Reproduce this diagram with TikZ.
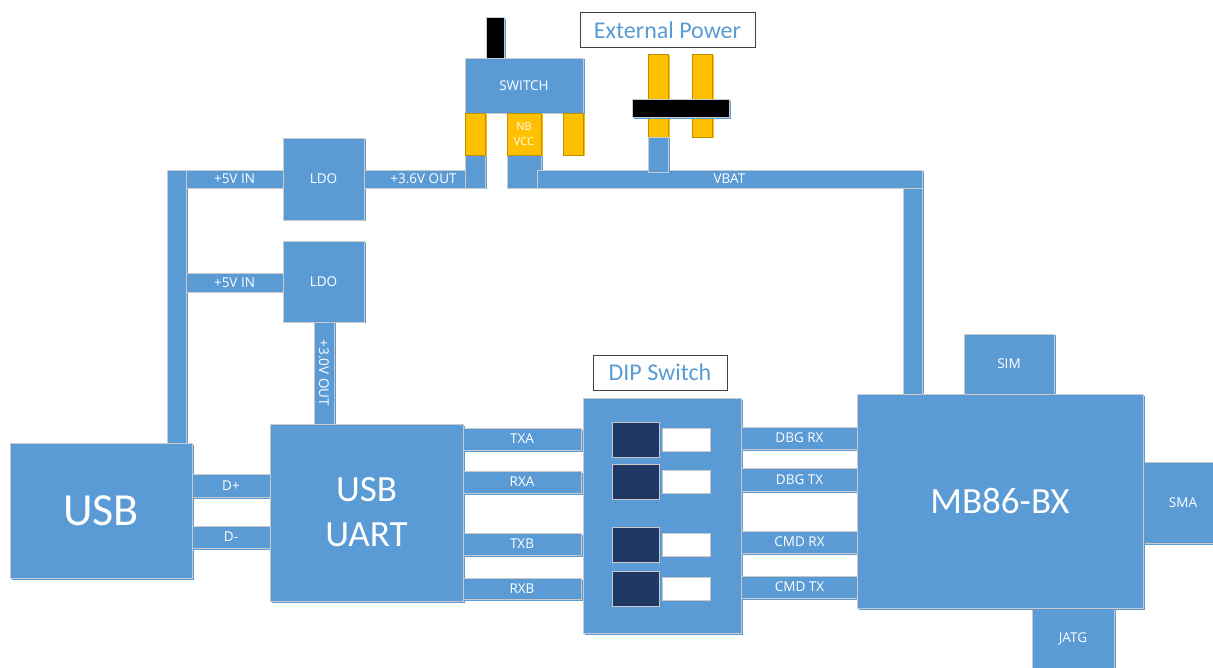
\documentclass[tikz,border=0pt]{standalone}
\usepackage{fontspec}
\setmainfont{Open Sans}
\newfontfamily\bigfont{Carlito}
\usepackage{xcolor}
\definecolor{blockblue}{HTML}{5B9BD5}
\definecolor{edgegray}{HTML}{C9C9C9}
\definecolor{padyellow}{HTML}{FFC000}
\definecolor{padedge}{HTML}{BF9000}
\definecolor{dipnavy}{HTML}{203864}
\usetikzlibrary{shadows}

\begin{document}
\begin{tikzpicture}[x=1pt, y=-1pt, font=\fontsize{13.5}{15}\selectfont,
  sz/.style 2 args={minimum width=#1, minimum height=#2},
  blk/.style={rectangle, draw=edgegray, line width=0.8pt, fill=blockblue, text=white, inner sep=0pt,
    general shadow={fill=blockblue, shadow xshift=1.5pt, shadow yshift=-1.5pt}},
  pad/.style={rectangle, draw=padedge, line width=0.8pt, fill=padyellow, text=white, inner sep=0pt,
    general shadow={fill=padyellow, shadow xshift=1.5pt, shadow yshift=-1.5pt}},
  plug/.style={rectangle, draw=edgegray, line width=0.8pt, fill=black, inner sep=0pt,
    general shadow={fill=blockblue, shadow xshift=2pt, shadow yshift=-2pt}},
  title/.style={rectangle, draw=black!75, line width=1pt, fill=white, text=blockblue, inner sep=0pt,
    font=\bigfont\fontsize{24}{28}\selectfont},
  dipkey/.style={rectangle, draw=edgegray, line width=0.8pt, fill=dipnavy, inner sep=0pt, sz={47}{35}},
  dipslot/.style={rectangle, draw=edgegray, line width=0.8pt, fill=white, inner sep=0pt, sz={48}{23}},
  big/.style={font=\bigfont\fontsize{37}{45}\selectfont, align=center}]

  \fill[white] (0,0) rectangle (1213,668);
  \useasboundingbox (0,0) rectangle (1213,668);

  % power path
  \node[blk, sz={19}{273}] (bus) at (176.5,306.5) {};
  \node[blk, sz={97}{18}] (in1) at (234.5,179) {+5V IN};
  \node[blk, sz={81}{82}] (ldo1) at (323.5,179) {LDO};
  \node[blk, sz={101}{18}] (out1) at (414.5,179) {\hspace{18pt}+3.6V OUT};
  \node[blk, sz={97}{19}] (in2) at (234.5,282.5) {+5V IN};
  \node[blk, sz={81}{81}] (ldo2) at (323.5,281.5) {LDO};
  \node[blk, sz={20}{102}] (out2) at (324,373) {};
  \node[white, rotate=-90] at (out2) {+3.0V OUT};

  % switch and external power
  \node[blk, sz={20}{33}] (pin1) at (475,171.5) {};
  \node[blk, sz={34}{33}] (pin2) at (524,171.5) {};
  \node[blk, sz={385}{18}] (vbat) at (729.5,179) {VBAT};
  \node[blk, sz={19}{206}] (vbatdn) at (912.5,291) {};
  \node[pad, sz={20}{83}] (prongl) at (658,95.5) {};
  \node[pad, sz={20}{83}] (prongr) at (702,95.5) {};
  \node[blk, sz={20}{35}] (batt) at (658,154.5) {};
  \node[plug, sz={97}{18}] (plugbar) at (680.5,108) {};
  \node[plug, sz={18}{41}] (knob) at (495,37.5) {};
  \node[blk, sz={118}{55}] (switch) at (524,85.5) {SWITCH};
  \node[pad, sz={20}{42}] (padl) at (475,134) {};
  \node[pad, sz={34}{42}, align=center, font=\fontsize{11}{15}\selectfont] (padm) at (524,134) {NB\\VCC};
  \node[pad, sz={20}{42}] (padr) at (573,134) {};
  \node[title, sz={175}{35}] (extpwr) at (667.5,30.5) {External Power};

  % usb side
  \node[blk, sz={182}{135}, font=\bigfont\fontsize{46}{50}\selectfont] (usb) at (101,510.5) {USB};
  \node[blk, sz={78}{23}] (dp) at (231,485.5) {D+};
  \node[blk, sz={78}{22}] (dm) at (231,537) {D-};
  \node[blk, sz={193}{177}, big] (uart) at (366.5,512.5) {USB\\UART};
  \node[blk, sz={118}{22}] (txa) at (522,439) {TXA};
  \node[blk, sz={118}{22}] (rxa) at (522,482) {RXA};
  \node[blk, sz={118}{22}] (txb) at (522,544) {TXB};
  \node[blk, sz={118}{21}] (rxb) at (522,588.5) {RXB};

  % dip switch
  \node[blk, sz={158}{235}] (dip) at (662,515.5) {};
  \node[title, sz={134}{35}] (diplbl) at (660,372.5) {DIP Switch};
  \foreach \y [count=\i] in {439.5,481.5,544.5,588.5} {
    \node[dipkey] (key\i) at (635.5,\y) {};
    \node[dipslot] (slot\i) at (686,\y) {};
  }

  % module side
  \node[blk, sz={117}{22}] (dbgrx) at (799.5,438) {DBG RX};
  \node[blk, sz={117}{23}] (dbgtx) at (799.5,479.5) {DBG TX};
  \node[blk, sz={117}{22}] (cmdrx) at (799.5,542) {CMD RX};
  \node[blk, sz={117}{22}] (cmdtx) at (799.5,587) {CMD TX};
  \node[blk, sz={90}{60}] (sim) at (1009,364) {SIM};
  \node[blk, sz={80}{81}] (sma) at (1183,502.5) {SMA};
  \node[blk, sz={82}{64}] (jatg) at (1073,640) {\raisebox{5pt}{JATG}};
  \node[blk, sz={286}{214}, big] (mb) at (1000,501) {MB86-BX};
\end{tikzpicture}
\end{document}
